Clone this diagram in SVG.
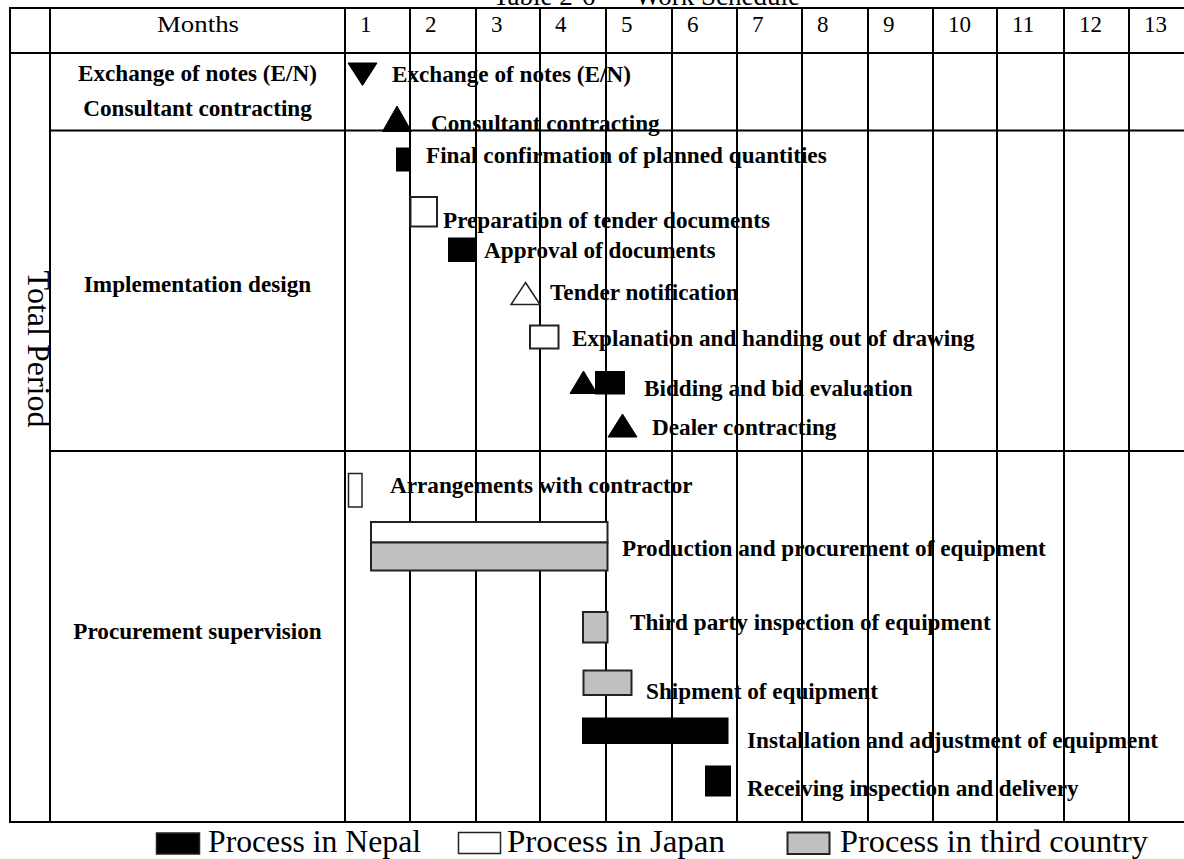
<svg xmlns="http://www.w3.org/2000/svg" width="1184" height="859" viewBox="0 0 1184 859">
<style>
.reg{font-family:"Liberation Serif","Times New Roman",serif;fill:#000}
.lbl{font-family:"Liberation Serif","Times New Roman",serif;font-weight:bold;font-size:23.2px;fill:#000}
.hd{font-size:23px}
.lg{font-size:31.5px}
.grid{stroke:#000;stroke-width:2;fill:none}
.blk{fill:#000;stroke:#000;stroke-width:1}
.wht{fill:#fff;stroke:#222;stroke-width:2}
.gry{fill:#c0c0c0;stroke:#222;stroke-width:2}
</style>
<rect x="0" y="0" width="1184" height="859" fill="#fff"/>
<text class="reg" font-size="27" y="5"><tspan x="493">Table 2-6</tspan><tspan x="635">Work Schedule</tspan></text>
<g id="grid" class="grid">
<line x1="9" y1="8" x2="1184" y2="8"/>
<line x1="9" y1="53" x2="1184" y2="53"/>
<line x1="50" y1="130.5" x2="1184" y2="130.5"/>
<line x1="50" y1="451" x2="1184" y2="451"/>
<line x1="9" y1="822" x2="1184" y2="822"/>
<line x1="10" y1="7" x2="10" y2="823"/>
<line x1="50" y1="8" x2="50" y2="822"/>
<line x1="345" y1="8" x2="345" y2="822"/>
<line x1="410" y1="8" x2="410" y2="822"/>
<line x1="476" y1="8" x2="476" y2="822"/>
<line x1="540" y1="8" x2="540" y2="822"/>
<line x1="606" y1="8" x2="606" y2="822"/>
<line x1="672" y1="8" x2="672" y2="822"/>
<line x1="737" y1="8" x2="737" y2="822"/>
<line x1="802" y1="8" x2="802" y2="822"/>
<line x1="868" y1="8" x2="868" y2="822"/>
<line x1="933" y1="8" x2="933" y2="822"/>
<line x1="997" y1="8" x2="997" y2="822"/>
<line x1="1064" y1="8" x2="1064" y2="822"/>
<line x1="1129" y1="8" x2="1129" y2="822"/>
</g>
<g id="header" class="reg hd">
<text x="198" y="32" text-anchor="middle" textLength="82" lengthAdjust="spacingAndGlyphs">Months</text>
<text x="360" y="32">1</text>
<text x="425" y="32">2</text>
<text x="491" y="32">3</text>
<text x="555" y="32">4</text>
<text x="621" y="32">5</text>
<text x="687" y="32">6</text>
<text x="752" y="32">7</text>
<text x="817" y="32">8</text>
<text x="883" y="32">9</text>
<text x="948" y="32">10</text>
<text x="1012" y="32">11</text>
<text x="1079" y="32">12</text>
<text x="1144" y="32">13</text>
</g>
<g id="total-period">
<text class="reg" font-size="32" transform="translate(28,349) rotate(90)" text-anchor="middle">Total Period</text>
</g>
<g id="categories" class="lbl" text-anchor="middle">
<text x="197.5" y="81">Exchange of notes (E/N)</text>
<text x="197.5" y="116">Consultant contracting</text>
<text x="197.5" y="292">Implementation design</text>
<text x="197.5" y="639">Procurement supervision</text>
</g>
<g id="exchange-notes">
<polygon class="blk" points="348,63 377,63 362.5,85.5"/>
<text class="lbl" x="392" y="81.5">Exchange of notes (E/N)</text>
</g>
<g id="consultant-contracting">
<polygon class="blk" points="397,106 411.5,131.5 382.5,131.5"/>
<text class="lbl" x="431" y="130.5">Consultant contracting</text>
</g>
<g id="final-confirmation">
<rect class="blk" x="396.5" y="148" width="14" height="23"/>
<text class="lbl" x="426" y="162.5">Final confirmation of planned quantities</text>
</g>
<g id="tender-documents">
<rect class="wht" x="410.5" y="197" width="26.5" height="29.5"/>
<text class="lbl" x="443" y="227.5">Preparation of tender documents</text>
</g>
<g id="approval">
<rect class="blk" x="448.5" y="238" width="27" height="23.5"/>
<text class="lbl" x="484" y="257.5">Approval of documents</text>
</g>
<g id="tender-notification">
<polygon class="wht" style="stroke-width:1.5" points="525.5,282.5 540,304.5 511,304.5"/>
<text class="lbl" x="550" y="300">Tender notification</text>
</g>
<g id="explanation">
<rect class="wht" x="530" y="325.5" width="28.5" height="23"/>
<text class="lbl" x="572" y="345.5">Explanation and handing out of drawing</text>
</g>
<g id="bidding">
<polygon class="blk" points="583.5,371 597,393.5 570,393.5"/>
<rect class="blk" x="595.5" y="371.5" width="29" height="22.5"/>
<text class="lbl" x="644" y="396">Bidding and bid evaluation</text>
</g>
<g id="dealer-contracting">
<polygon class="blk" points="622.5,414 637,437 608,437"/>
<text class="lbl" x="652" y="435">Dealer contracting</text>
</g>
<g id="arrangements">
<rect class="wht" style="stroke-width:1.5" x="348.5" y="473.5" width="13.5" height="33.5"/>
<text class="lbl" x="390" y="493">Arrangements with contractor</text>
</g>
<g id="production">
<rect class="wht" x="371" y="522" width="236.5" height="20.5"/>
<rect class="gry" x="371" y="542.5" width="236.5" height="28"/>
<text class="lbl" x="622" y="556">Production and procurement of equipment</text>
</g>
<g id="third-party-inspection">
<rect class="gry" x="583" y="612" width="24.5" height="30.5"/>
<text class="lbl" x="630" y="629.5">Third party inspection of equipment</text>
</g>
<g id="shipment">
<rect class="gry" x="583.5" y="670.5" width="48" height="24.5"/>
<text class="lbl" x="646" y="699">Shipment of equipment</text>
</g>
<g id="installation">
<rect class="blk" x="582.5" y="718" width="145.5" height="25.5"/>
<text class="lbl" x="747" y="747.5">Installation and adjustment of equipment</text>
</g>
<g id="receiving">
<rect class="blk" x="705.5" y="766" width="25" height="30"/>
<text class="lbl" x="747" y="795.5">Receiving inspection and delivery</text>
</g>
<g id="legend" class="reg lg">
<rect class="blk" style="stroke:#222;stroke-width:1.5" x="156.5" y="833" width="43" height="21"/>
<text x="208" y="851.5" textLength="213" lengthAdjust="spacingAndGlyphs">Process in Nepal</text>
<rect class="wht" style="stroke-width:1.5" x="458.5" y="832.5" width="42" height="21"/>
<text x="507" y="851.5" textLength="218" lengthAdjust="spacingAndGlyphs">Process in Japan</text>
<rect class="gry" x="787.5" y="832.5" width="42" height="21.5"/>
<text x="840" y="851.5" textLength="308" lengthAdjust="spacingAndGlyphs">Process in third country</text>
</g>
</svg>
